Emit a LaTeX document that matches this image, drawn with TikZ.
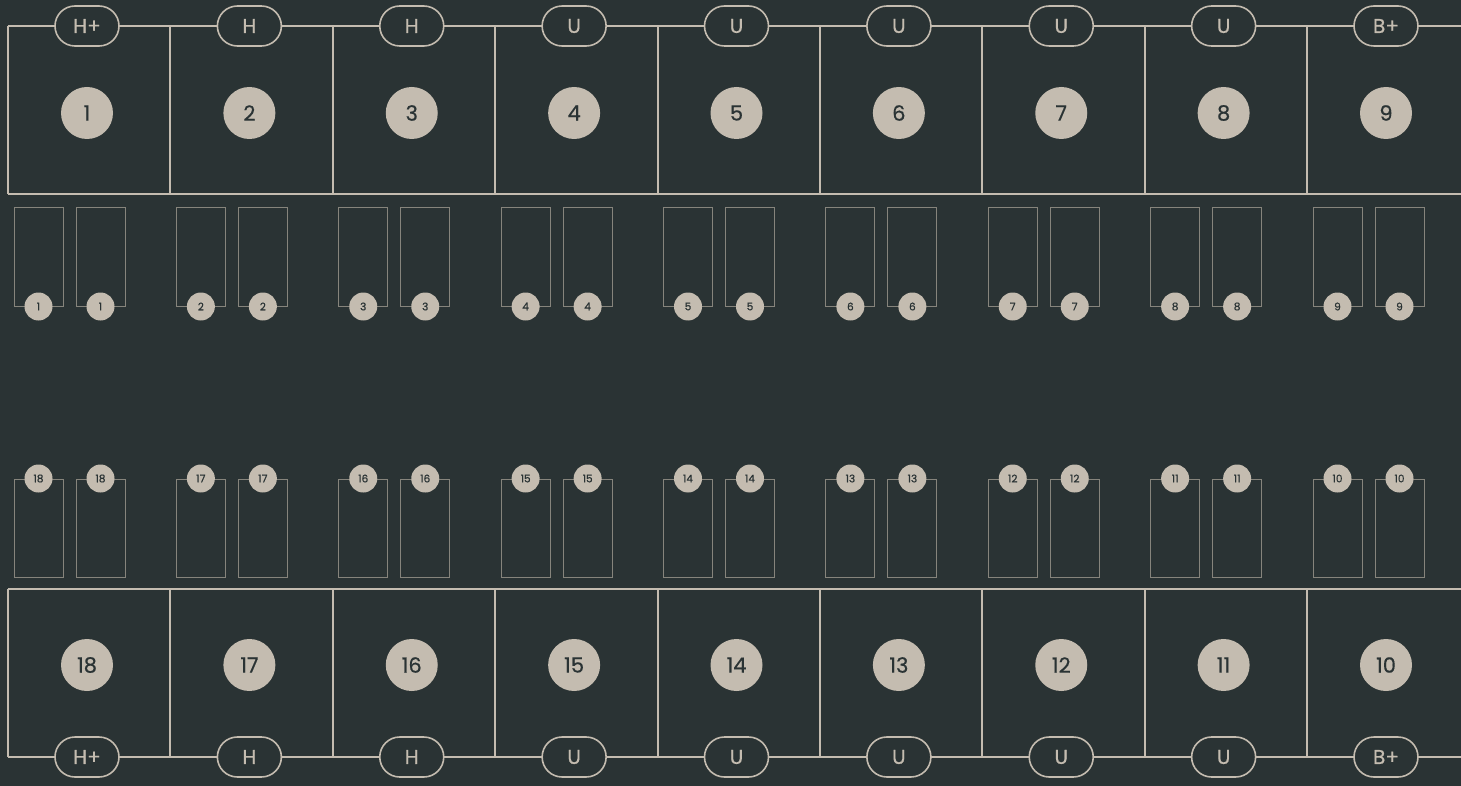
\documentclass[tikz,border=0pt]{standalone}
\usepackage{fontspec}
\setmainfont{Poppins}[FakeBold=0.5]
\definecolor{bg}{HTML}{2A3334}
\definecolor{ln}{HTML}{C4BCB0}
\definecolor{dim}{HTML}{86847C}
\begin{document}
\begin{tikzpicture}[x=1pt,y=-1pt,
  frame/.style={draw=ln,line width=2pt},
  pill/.style={draw=ln,line width=1.6pt,fill=bg,rectangle,rounded corners=20pt,
    minimum width=64pt,minimum height=40pt,inner sep=0pt,text=ln,
    font=\fontsize{20}{20}\selectfont},
  bigdot/.style={circle,fill=ln,minimum size=52pt,inner sep=0pt,text=bg,
    font=\fontsize{21}{21}\selectfont},
  slot/.style={rectangle,draw=dim,line width=1pt,minimum width=49pt,minimum height=98pt,inner sep=0pt},
  smalldot/.style={circle,fill=ln,minimum size=28pt,inner sep=0pt,text=bg,
    font=\fontsize{10.5}{10.5}\selectfont}]
\fill[bg] (0,0) rectangle (1461,786);
\useasboundingbox (0,0) rectangle (1461,786);
% frames
\draw[frame] (8,26) -- (1461,26);
\draw[frame] (8,194) -- (1461,194);
\draw[frame] (8,589) -- (1461,589);
\draw[frame] (8,757) -- (1461,757);
\foreach \i in {1,...,9}{
  \pgfmathsetmacro\L{8+(\i-1)*162.375}
  \draw[frame] (\L,26) -- (\L,194);
  \draw[frame] (\L,589) -- (\L,757);
}
\foreach \i/\lab in {1/H+,2/H,3/H,4/U,5/U,6/U,7/U,8/U,9/B+}{
  \pgfmathsetmacro\L{8+(\i-1)*162.375}
  \pgfmathsetmacro\cx{\L+79}
  \pgfmathtruncatemacro\n{19-\i}
  % top row
  \node[pill] (tp\i) at (\cx,26) {\lab};
  \node[bigdot] (tc\i) at (\cx,113) {\i};
  \node[slot] (tsa\i) at (\L+30.5,257) {};
  \node[slot] (tsb\i) at (\L+92.5,257) {};
  \node[smalldot] (tda\i) at (tsa\i.south) {\i};
  \node[smalldot] (tdb\i) at (tsb\i.south) {\i};
  % bottom row
  \node[pill] (bp\i) at (\cx,757) {\lab};
  \node[bigdot] (bc\i) at (\cx,665) {\n};
  \node[slot] (bsa\i) at (\L+30.5,528) {};
  \node[slot] (bsb\i) at (\L+92.5,528) {};
  \node[smalldot] (bda\i) at (bsa\i.north) {\n};
  \node[smalldot] (bdb\i) at (bsb\i.north) {\n};
}
\end{tikzpicture}
\end{document}
